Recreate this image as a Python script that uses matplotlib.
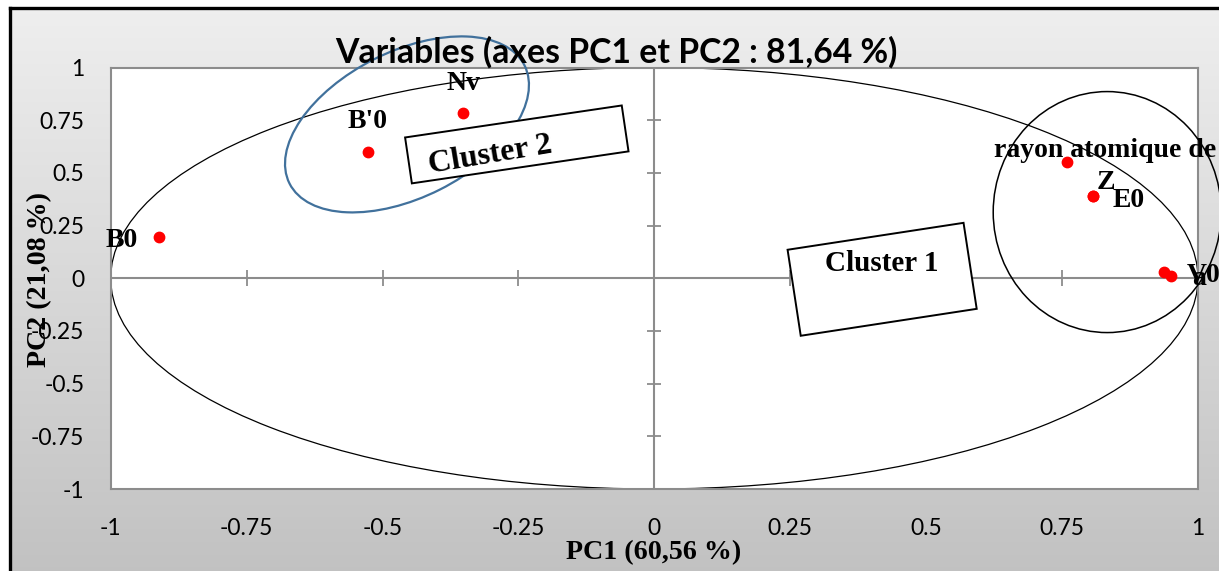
import numpy as np
import matplotlib
matplotlib.use("Agg")
import matplotlib.pyplot as plt
from matplotlib.patches import Ellipse, Rectangle
from matplotlib.transforms import Affine2D, ScaledTranslation

# PCA variable coordinates
labels = ["B0", "B'0", "Nv", "rayon atomique de", "Z", "E0", "V0", "a"]
pc1 = [-0.911, -0.527, -0.352, 0.759, 0.806, 0.806, 0.937, 0.950]
pc2 = [0.196, 0.599, 0.784, 0.552, 0.390, 0.390, 0.030, 0.011]

# label placement (offset in pixels from the point, horizontal alignment)
lab_off = [(-21, -10, 'right'), (0, 24, 'center'), (0, 23, 'center'),
           (-73, 5, 'left'), (4, 7, 'left'), (20, -11, 'left'),
           (23, -10, 'left'), (21, -9, 'left')]

ticks = [-1, -0.75, -0.5, -0.25, 0, 0.25, 0.5, 0.75, 1]
tick_labels = ['-1', '-0.75', '-0.5', '-0.25', '0', '0.25', '0.5', '0.75', '1']

W, H = 1219, 571
fig = plt.figure(figsize=(W / 100, H / 100), dpi=100)
fig.patch.set_facecolor('white')

# chart area background: vertical grey gradient with black border top/left
bg = fig.add_axes([10 / W, 0, 1 - 10 / W, 1 - 7 / H], zorder=-5)
grad = np.linspace(0.935, 0.76, 256).reshape(-1, 1)
bg.imshow(np.dstack([grad, grad, grad]), aspect='auto', extent=[0, 1, 0, 1])
bg.set_xlim(0, 1)
bg.set_ylim(0, 1)
bg.axis('off')
fig.add_artist(plt.Line2D([10 / W, 1], [1 - 7.5 / H, 1 - 7.5 / H], color='black', lw=2.4,
                          transform=fig.transFigure))
fig.add_artist(plt.Line2D([10 / W, 10 / W], [0, 1 - 7.5 / H], color='black', lw=2.4,
                          transform=fig.transFigure))

ax = fig.add_axes([110.7 / W, 1 - 489 / H, (1198 - 110.7) / W, (489 - 67.5) / H])
ax.set_facecolor('white')
ax.set_xlim(-1, 1)
ax.set_ylim(-1, 1)
for s in ax.spines.values():
    s.set_color('#8c8c8c')
    s.set_linewidth(1.5)

ax.set_xticks(ticks)
ax.set_yticks(ticks)
ax.set_xticklabels(tick_labels, fontfamily='Lato', fontsize=16.5)
ax.set_yticklabels(tick_labels, fontfamily='Lato', fontsize=16.5)
ax.tick_params(axis='x', length=0, pad=21)
ax.tick_params(axis='y', length=0, pad=19)

# axes through the origin with cross ticks
ax.axhline(0, color='#8c8c8c', lw=1.5, zorder=1)
ax.axvline(0, color='#8c8c8c', lw=1.5, zorder=1)
inner = [t for t in ticks if t not in (-1, 0, 1)]
ax.plot(inner, [0] * len(inner), ls='none', marker='|', ms=11.5, mew=1.3,
        color='#8c8c8c', zorder=1)
ax.plot([0] * len(inner), inner, ls='none', marker='_', ms=10, mew=1.3,
        color='#8c8c8c', zorder=1)

# correlation circle
ax.add_patch(Ellipse((0, 0), 2, 2, fill=False, ec='black', lw=0.9, zorder=2))


def px_shape(patch, cx, cy, angle=0):
    # shape sized in inches, centered on a data point
    patch.set_transform(Affine2D().rotate_deg(angle) + fig.dpi_scale_trans +
                        ScaledTranslation(cx, cy, ax.transData))
    patch.set_clip_on(False)
    ax.add_patch(patch)


# cluster outlines
px_shape(Ellipse((0, 0), 2.63, 1.46, fill=False, ec='#41719c', lw=1.6, zorder=3),
         -0.455, 0.730, 26.7)
px_shape(Ellipse((0, 0), 2.28, 2.41, fill=False, ec='black', lw=1.1, zorder=3),
         0.833, 0.314)

# cluster boxes
px_shape(Rectangle((-1.095, -0.232), 2.19, 0.464, fc='white', ec='black', lw=1.4, zorder=4),
         -0.253, 0.635, 8.4)
px_shape(Rectangle((-0.89, -0.435), 1.78, 0.87, fc='white', ec='black', lw=1.4, zorder=4),
         0.419, -0.005, 8.7)
ax.text(-0.301, 0.585, 'Cluster 2', fontfamily='Liberation Serif', fontweight='bold',
        fontsize=23, rotation=9.5, ha='center', va='center', rotation_mode='anchor', zorder=5)
ax.text(0.419, 0.072, 'Cluster 1', fontfamily='Liberation Serif', fontweight='bold',
        fontsize=21, ha='center', va='center', zorder=5)

# points and labels
ax.scatter(pc1, pc2, s=56, color='red', zorder=6, clip_on=False)
for lab, x, y, (dx, dy, ha) in zip(labels, pc1, pc2, lab_off):
    ax.annotate(lab, (x, y), xytext=(dx, dy), textcoords='offset pixels',
                ha=ha, va='baseline', fontfamily='Liberation Serif',
                fontweight='bold', fontsize=20, zorder=7, annotation_clip=False)

fig.text(616 / W, 1 - 52 / H, 'Variables (axes PC1 et PC2 : 81,64 %)',
         fontfamily='Lato', fontweight='bold', fontsize=24.3, ha='center', va='center')
fig.text(654 / W, 1 - 553 / H, 'PC1 (60,56 %)', fontfamily='Liberation Serif',
         fontweight='bold', fontsize=20.2, ha='center', va='center')
fig.text(40 / W, 1 - 279 / H, 'PC2 (21,08 %)', fontfamily='Liberation Serif',
         fontweight='bold', fontsize=20.2, ha='center', va='center', rotation=90)

fig.savefig('out.png', dpi=100)
